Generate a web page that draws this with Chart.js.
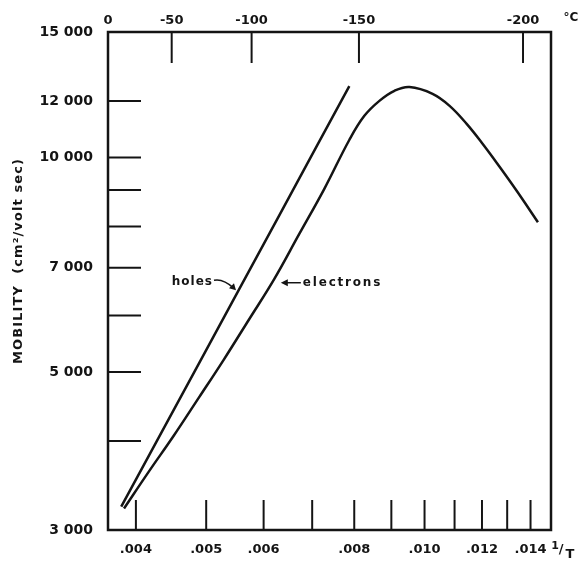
<!DOCTYPE html>
<html>
<head>
<meta charset="utf-8">
<script src="https://cdn.jsdelivr.net/npm/chart.js@4.4.1/dist/chart.umd.min.js"></script>
<style>
  html, body { margin: 0; padding: 0; background: #fff; }
  canvas { display: block; }
</style>
</head>
<body>
<canvas id="mobilityChart" width="578" height="563"></canvas>
<script>
// Values: 1/T (K^-1) on x, mobility (cm2/volt sec) on y
const holesInvT = [0.003818, 0.004300, 0.004885, 0.005548, 0.006303, 0.007157, 0.007876];
const holesMobility = [3235, 4044, 5137, 6524, 8285, 10523, 12594];

const electronsInvT = [0.003852, 0.004165, 0.004510, 0.004885, 0.005288, 0.005728, 0.006202,
    0.006716, 0.007272, 0.007875, 0.008261, 0.008665, 0.009088, 0.009533, 0.010258,
    0.010828, 0.011431, 0.012030, 0.012697, 0.013404, 0.014333];
const electronsMobility = [3216, 3620, 4068, 4601, 5204, 5924, 6743,
    7803, 9028, 10581, 11439, 12007, 12403, 12553, 12283,
    11814, 11145, 10444, 9695, 8971, 8112];

// Tick marks of the three axes
const invTTicks = [0.004, 0.005, 0.006, 0.007, 0.008, 0.009, 0.010, 0.011, 0.012, 0.013, 0.014];
const invTLabelled = [0.004, 0.005, 0.006, 0.008, 0.010, 0.012, 0.014];
const mobilityTicks = [3000, 4000, 5000, 6000, 7000, 8000, 9000, 10000, 12000, 15000];
const mobilityLabelled = [3000, 5000, 7000, 10000, 12000, 15000];
const celsiusTicks = [0, -50, -100, -150, -200];

// Axis limits: left edge is 0 °C, right edge a little past -200 °C
const invTMin = 1 / 273.15;
const invTMax = 0.01494;
const mobilityMin = 3000;
const mobilityMax = 15000;

const ink = '#141414';

const toPoints = (xs, ys) => xs.map((x, i) => ({ x: x, y: ys[i] }));
const isIn = (list, v) => list.some(l => Math.abs(l - v) < 1e-9);

Chart.defaults.font.family = "'DejaVu Sans', sans-serif";
Chart.defaults.font.weight = 'bold';
Chart.defaults.color = ink;

// Frame, inward tick marks and the hand-lettered notes
const paperPlugin = {
    id: 'paper',
    afterDraw(chart) {
        const { ctx, chartArea: a, scales } = chart;
        ctx.save();
        ctx.strokeStyle = ink;
        ctx.fillStyle = ink;
        ctx.lineCap = 'butt';

        ctx.lineWidth = 2.5;
        ctx.strokeRect(a.left, a.top, a.right - a.left, a.bottom - a.top);

        const seg = (x1, y1, x2, y2) => {
            ctx.beginPath();
            ctx.moveTo(x1, y1);
            ctx.lineTo(x2, y2);
            ctx.stroke();
        };

        ctx.lineWidth = 2;
        scales.y.ticks.forEach(t => {
            const py = scales.y.getPixelForValue(t.value);
            if (py < a.top + 3 || py > a.bottom - 3) return;
            seg(a.left, py, a.left + 33, py);
        });
        scales.x.ticks.forEach(t => {
            const px = scales.x.getPixelForValue(t.value);
            if (px < a.left + 3 || px > a.right - 3) return;
            seg(px, a.bottom, px, a.bottom - 30);
        });
        scales.x2.ticks.forEach(t => {
            const px = scales.x2.getPixelForValue(t.value);
            if (px < a.left + 3 || px > a.right - 3) return;
            seg(px, a.top, px, a.top + 31);
        });

        // y axis title
        ctx.save();
        ctx.translate(19, 261);
        ctx.rotate(-Math.PI / 2);
        ctx.font = "bold 13px 'DejaVu Sans'";
        ctx.letterSpacing = '1.1px';
        ctx.textAlign = 'center';
        ctx.textBaseline = 'middle';
        ctx.fillText('MOBILITY  (cm²/volt sec)', 0, 0);
        ctx.restore();

        // unit labels at the axis ends
        ctx.font = "bold 12px 'DejaVu Sans'";
        ctx.textAlign = 'center';
        ctx.textBaseline = 'middle';
        ctx.fillText('°C', 571, 18);
        ctx.font = "bold 11px 'DejaVu Sans'";
        ctx.fillText('1', 555, 546);
        ctx.font = "bold 13px 'DejaVu Sans'";
        ctx.fillText('/', 561, 550);
        ctx.fillText('T', 570, 555);

        // "holes" note, arrow pointing at the holes curve
        ctx.font = "bold 12px 'DejaVu Sans'";
        ctx.letterSpacing = '1px';
        const hx = scales.x.getPixelForValue(0.005496);
        const hy = scales.y.getPixelForValue(6530);
        ctx.textAlign = 'right';
        ctx.fillText('holes', hx - 23, hy - 7);
        ctx.lineWidth = 1.5;
        ctx.beginPath();
        ctx.moveTo(hx - 22, hy - 9);
        ctx.quadraticCurveTo(hx - 13, hy - 11, hx - 2, hy - 1);
        ctx.stroke();
        ctx.beginPath();
        ctx.moveTo(hx, hy + 1);
        ctx.lineTo(hx - 7, hy - 1);
        ctx.lineTo(hx - 2, hy - 6);
        ctx.closePath();
        ctx.fill();

        // "electrons" note, arrow pointing left at the electrons curve
        const ex = scales.x.getPixelForValue(0.006337);
        const ey = scales.y.getPixelForValue(6671);
        ctx.beginPath();
        ctx.moveTo(ex + 4, ey);
        ctx.lineTo(ex + 20, ey);
        ctx.stroke();
        ctx.beginPath();
        ctx.moveTo(ex, ey);
        ctx.lineTo(ex + 7, ey - 3.5);
        ctx.lineTo(ex + 7, ey + 3.5);
        ctx.closePath();
        ctx.fill();
        ctx.textAlign = 'left';
        ctx.letterSpacing = '1.8px';
        ctx.fillText('electrons', ex + 22, ey);

        ctx.restore();
    }
};

const ctx = document.getElementById('mobilityChart').getContext('2d');

new Chart(ctx, {
    type: 'line',
    data: {
        datasets: [
            {
                label: 'holes',
                data: toPoints(holesInvT, holesMobility),
                borderColor: ink,
                borderWidth: 2.5,
                pointRadius: 0,
                tension: 0,
                fill: false
            },
            {
                label: 'electrons',
                data: toPoints(electronsInvT, electronsMobility),
                borderColor: ink,
                borderWidth: 2.5,
                pointRadius: 0,
                tension: 0.4,
                fill: false
            }
        ]
    },
    options: {
        responsive: false,
        animation: false,
        layout: { padding: { left: 0, right: 27, top: 0, bottom: 0 } },
        plugins: {
            legend: { display: false },
            tooltip: { enabled: false }
        },
        scales: {
            x: {
                type: 'logarithmic',
                position: 'bottom',
                min: invTMin,
                max: invTMax,
                grid: { display: false },
                border: { display: false },
                afterBuildTicks: s => { s.ticks = invTTicks.map(v => ({ value: v })); },
                afterFit: s => { s.height = 33; },
                ticks: {
                    autoSkip: false,
                    maxRotation: 0,
                    padding: 4,
                    font: { size: 13, weight: 'bold' },
                    callback: v => isIn(invTLabelled, v)
                        ? '.' + String(Math.round(v * 1000)).padStart(3, '0') : ''
                }
            },
            x2: {
                type: 'logarithmic',
                position: 'top',
                min: invTMin,
                max: invTMax,
                grid: { display: false },
                border: { display: false },
                afterBuildTicks: s => {
                    s.ticks = celsiusTicks.map(c => ({ value: 1 / (c + 273.15) }));
                },
                afterFit: s => { s.height = 32; },
                ticks: {
                    autoSkip: false,
                    maxRotation: 0,
                    padding: -4,
                    font: { size: 13, weight: 'bold' },
                    callback: (v, i) => String(celsiusTicks[i])
                }
            },
            y: {
                type: 'logarithmic',
                min: mobilityMin,
                max: mobilityMax,
                grid: { display: false },
                border: { display: false },
                afterBuildTicks: s => { s.ticks = mobilityTicks.map(v => ({ value: v })); },
                afterFit: s => { s.width = 108; },
                ticks: {
                    autoSkip: false,
                    padding: 7,
                    font: { size: 14, weight: 'bold' },
                    callback: v => isIn(mobilityLabelled, v)
                        ? Math.floor(v / 1000) + ' 000' : ''
                }
            }
        }
    },
    plugins: [paperPlugin]
});
</script>
</body>
</html>
